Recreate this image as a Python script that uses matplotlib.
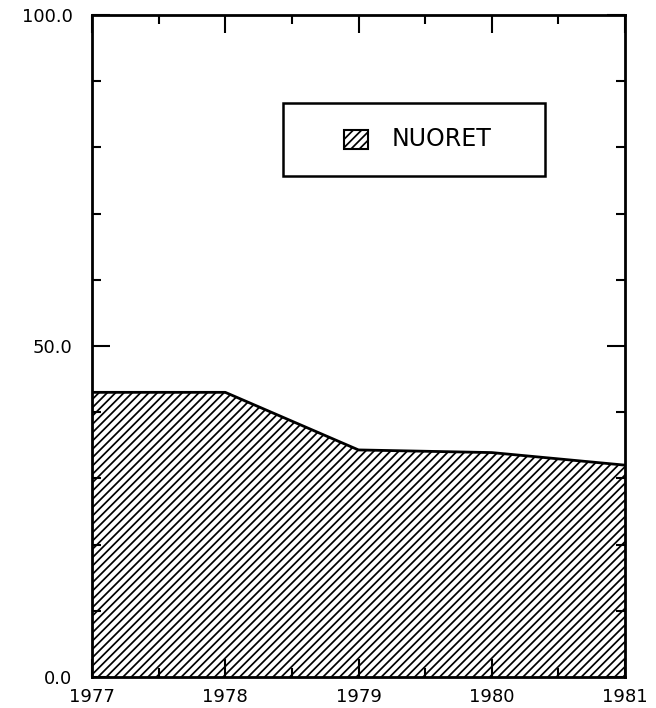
import matplotlib.pyplot as plt
from matplotlib.patches import Rectangle
from matplotlib.ticker import MultipleLocator

plt.rcParams['hatch.linewidth'] = 1.25

# data
vuodet = [1977, 1978, 1979, 1980, 1981]
nuoret = [43.0, 43.0, 34.3, 33.9, 32.0]
x_labels = ['1977', '1978', '1979', '1980', '1981']
y_ticks = [0, 50, 100]
y_labels = ['0.0', '50.0', '100.0']

fig = plt.figure(figsize=(6.56, 7.08), dpi=100)
ax = fig.add_axes([92/656, 31/708, 533/656, 662/708])

ax.fill_between(vuodet, 0, nuoret, facecolor='white', edgecolor='black',
                hatch='////', linewidth=0)
ax.plot(vuodet, nuoret, color='black', linewidth=2)

ax.set_xlim(1977, 1981)
ax.set_ylim(0, 100)
ax.set_xticks(vuodet)
ax.set_xticklabels(x_labels)
ax.xaxis.set_minor_locator(MultipleLocator(0.5))
ax.set_yticks(y_ticks)
ax.set_yticklabels(y_labels)
ax.yaxis.set_minor_locator(MultipleLocator(10))

ax.tick_params(which='both', direction='in', top=True, right=True,
               width=1.5, labelsize=13)
ax.tick_params(which='major', length=13)
ax.tick_params(which='minor', length=6.5)
ax.tick_params(axis='y', pad=14)
ax.tick_params(axis='x', pad=8)
for s in ax.spines.values():
    s.set_linewidth(2)

# selite (legend box)
ax.add_patch(Rectangle((0.358, 0.757), 0.492, 0.110, transform=ax.transAxes,
                       facecolor='white', edgecolor='black', linewidth=1.8, zorder=5))
ax.add_patch(Rectangle((0.472, 0.797), 0.045, 0.030, transform=ax.transAxes,
                       facecolor='white', edgecolor='black', hatch='////',
                       linewidth=1.5, zorder=6))
ax.text(0.562, 0.812, 'NUORET', transform=ax.transAxes, fontsize=17,
        va='center', ha='left', zorder=6)

plt.savefig('out.png', dpi=100)
